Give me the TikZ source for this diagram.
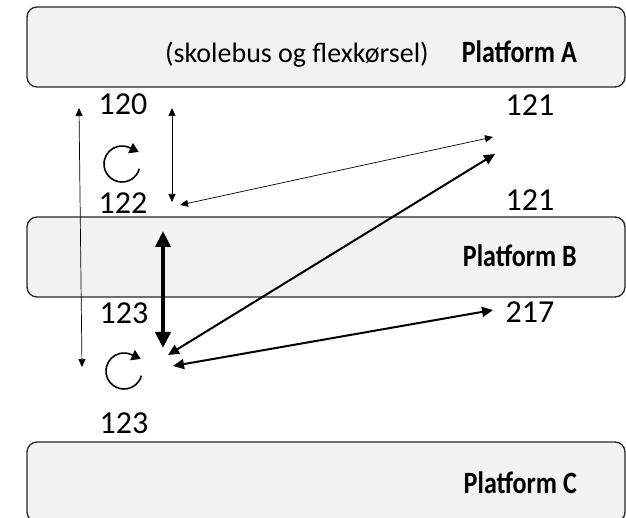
\documentclass[tikz,border=0pt]{standalone}
\usepackage{fontspec}
\setmainfont{Carlito}
\newfontfamily\platfont[FakeStretch=0.84]{Carlito}
\usetikzlibrary{arrows.meta}

\begin{document}
\begin{tikzpicture}[x=1pt,y=-1pt,
            platform/.style={draw=black!85,line width=1.3pt,fill=black!5,rounded corners=10pt,
                minimum width=598pt,minimum height=80pt,inner sep=0pt},
            num/.style={font=\fontsize{32}{36}\selectfont,inner sep=0pt},
            plabel/.style={font=\platfont\fontsize{31}{36}\selectfont\bfseries,anchor=base east,inner sep=0pt},
            thinarrow/.style={{Triangle[length=8pt,width=7pt]}-{Triangle[length=8pt,width=7pt]},line width=0.7pt},
            midarrow/.style={{Triangle[length=11pt,width=10pt]}-{Triangle[length=11pt,width=10pt]},line width=2pt},
            thickarrow/.style={{Triangle[length=16pt,width=15pt]}-{Triangle[length=16pt,width=15pt]},line width=4.5pt},
            rotarrow/.style={line width=1.6pt,-{Triangle[length=9pt,width=11pt]}}
        ]
    \useasboundingbox (0,0) rectangle (626,518);

    % platforms
    \node[platform] (platA) at (326,47) {};
    \node[platform] (platB) at (326,257) {};
    \node[platform] (platC) at (326,482) {};
    \node[plabel] (nameA) at (577,63) {Platform A};
    \node[plabel] (nameB) at (577,267) {Platform B};
    \node[plabel] (nameC) at (577,493) {Platform C};
    \node[font=\fontsize{28}{32}\selectfont,anchor=base west,inner sep=0pt] (noteA) at (165,63) {(skolebus og flexkørsel)};

    % route numbers
    \node[num] (r120) at (123,104) {120};
    \node[num] (r122) at (123,203) {122};
    \node[num] (r121a) at (530,105) {121};
    \node[num] (r121b) at (530,200) {121};
    \node[num] (r123a) at (124,313) {123};
    \node[num] (r217) at (530,312) {217};
    \node[num] (r123b) at (124,423) {123};

    % turning points
    \coordinate (turnA) at (122,164);
    \coordinate (turnB) at (124,371);
    \draw[rotarrow] (turnA) ++(15:18) arc[start angle=15,end angle=295,radius=18] -- ++(25:10);
    \draw[rotarrow] (turnB) ++(15:18) arc[start angle=15,end angle=295,radius=18] -- ++(25:10);

    % connector ends
    \coordinate (leftTop) at (79,108);
    \coordinate (leftBot) at (82,367);
    \coordinate (stopTop) at (172,108);
    \coordinate (stopBot) at (172,202);
    \coordinate (stopA) at (180,205);
    \coordinate (farA) at (493,137);
    \coordinate (thickTop) at (163,231);
    \coordinate (thickBot) at (163,348);
    \coordinate (stopB) at (168,355);
    \coordinate (farB) at (495,154);
    \coordinate (stopC) at (173,366);
    \coordinate (farC) at (493,310);

    \draw[thinarrow] (leftTop) -- (leftBot);
    \draw[thinarrow] (stopTop) -- (stopBot);
    \draw[thinarrow] (stopA) -- (farA);
    \draw[thickarrow] (thickTop) -- (thickBot);
    \draw[midarrow] (stopB) -- (farB);
    \draw[midarrow] (stopC) -- (farC);
\end{tikzpicture}
\end{document}
